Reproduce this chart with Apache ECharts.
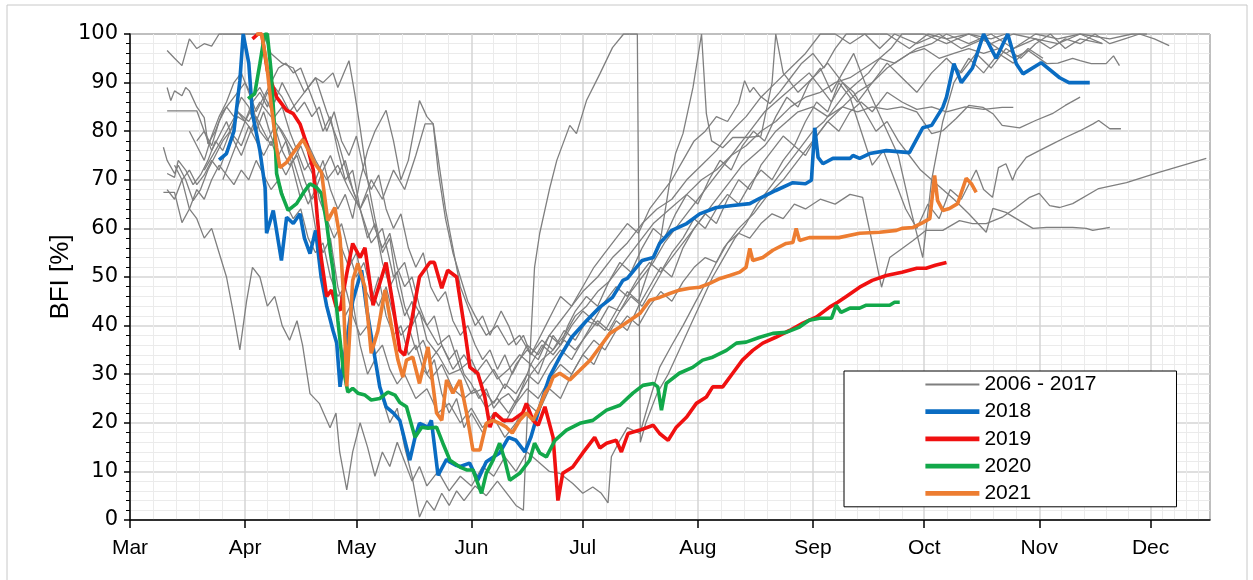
<!DOCTYPE html>
<html>
<head>
<meta charset="utf-8">
<script src="https://cdn.jsdelivr.net/npm/echarts@6/dist/echarts.min.js"></script>
<style>
html,body{margin:0;padding:0;background:#fff;}
#chart{width:1253px;height:580px;}
</style>
</head>
<body>
<div id="chart"></div>
<script>
// x = days since 1 March, y = BFI [%]
const yTicks = [0,10,20,30,40,50,60,70,80,90,100];
const legendNames = ['2006 - 2017','2018','2019','2020','2021'];

const g1 = [[10,96.6],[12,95],[14,93.5],[16,99],[18,97],[20,98],[22,97.5],[24,100],[28,100],[32,100],[36,100],[38,96],[41,94],[44,93],[47,88],[50,91],[53,84],[56,78],[59,70],[62,64],[65,57],[68,60],[71,50],[74,53],[77,44],[80,40],[83,36],[86,38],[89,31],[92,33],[95,28],[98,31],[101,27],[104,32],[107,35],[110,33],[113,38],[116,41],[119,44],[122,47],[126,50],[130,54],[134,57],[138,61],[142,64],[146,66],[150,70],[154,73],[158,76],[162,80],[166,83],[170,87],[174,90],[178,93],[182,96],[186,100],[190,100],[194,98],[198,100],[204,100],[210,97],[215,100],[220,99],[226,100],[232,98],[238,100],[244,99],[248,97],[252,99],[256,98],[260,100],[264,98],[268,99],[272,100],[276,99],[280,97.6]];
const g2 = [[10,89],[11,86.3],[12,88.3],[14,87.3],[15,89],[16,88.3],[18,85],[20,82.8],[21,77.4],[23,80],[25,84],[27,86],[29,88],[31,90],[33,87],[35,89],[37,86],[39,83],[41,85],[43,80],[45,76],[47,72],[49,74],[51,66],[53,62],[55,64],[57,56],[59,52],[61,55],[63,48],[65,45],[67,50],[69,42],[71,38],[73,40],[75,34],[77,36],[79,31],[81,29],[84,32],[87,27],[90,25],[93,27],[96,23],[99,25],[102,22],[105,26],[108,30],[111,33],[114,35],[117,38],[120,42],[123,44],[126,47],[129,49],[132,52],[135,55],[138,58],[141,61],[144,63],[147,65],[150,67],[154,70],[158,72],[162,75],[166,77],[170,80],[174,82],[178,85],[182,87],[186,88],[190,90],[194,91],[198,93],[202,95],[206,94],[210,96],[214,97],[218,95],[222,96],[226,97],[230,96],[234,97],[238,95],[242,96.6],[247,93.9],[250,94],[254,95],[256,94.5],[259,93.9],[263,93.9],[265,95.5],[266.6,93.5]];
const g3 = [[9,76.7],[10,74],[12,71.3],[13,73],[15,70],[17,65.7],[19,68],[21,72],[23,75],[25,78],[27,80],[29,83],[31,82],[33,85],[35,80],[37,78],[39,81],[41,76],[43,73],[45,75],[47,70],[49,66],[51,68],[53,62],[55,58],[57,61],[59,55],[61,50],[63,53],[65,47],[67,44],[69,48],[71,42],[73,38],[75,40],[77,35],[79,37],[81,33],[84,36],[87,31],[90,34],[93,30],[96,33],[99,29],[102,31],[105,34],[108,32],[111,36],[114,34],[117,37],[120,35],[123,38],[126,41],[129,39],[132,43],[135,46],[138,44],[141,48],[144,52],[147,55],[150,58],[153,61],[156,64],[159,67],[162,70],[165,73],[168,75],[171,77],[174,80],[177,82],[180,84],[184,85],[188,83],[192,85],[196,84],[200,85],[204,84.5],[208,85],[212,84],[216,79.5],[219,80.1],[222.6,82.6],[226,85.3],[229.8,84.9],[232.5,83.6],[235,81.2],[239.7,80.7],[244,82.2],[248.5,83.6],[252,85.3],[256,87]];
const g4 = [[10,71.3],[12,70.5],[13,74],[15,72],[17,69],[19,71],[21,74],[23,78],[25,76],[27,80],[29,84],[31,82],[33,86],[35,88],[37,85],[39,89],[41,87],[43,84],[45,86],[47,88],[50,91],[52,90],[54.7,92],[56,89],[59,94.5],[60.5,88],[62,80.7],[64,70],[66,62],[68,55],[70,58],[72,48],[74,42],[76,45],[78,36],[80,30],[82,33],[84,26],[86,22],[88,25],[90,19],[92,22],[95,18],[98,21],[101,17],[104,20],[107,24],[110,22],[113,27],[116,25],[119,30],[122,34],[125,32],[128,37],[131,41],[134,39],[137,44],[140,48],[143,52],[146,50],[149,56],[152,60],[155,63],[158,61],[161,66],[164,70],[167,68],[170,73],[173,76],[176,79],[179,77],[182,82],[185,86],[188,84],[191,90],[194,87],[197,80],[200,73],[203,76],[206,70],[209,64],[212,60],[215,65],[218,62],[221,68],[224,66],[228,72],[230,68],[232.4,66.4],[234,72.5],[236,73.3],[237.8,69.9],[238.8,71.9],[241.5,74.6],[245,76],[248.6,77.4],[252,78.7],[256,80.1],[259.5,81.5],[261,82.2],[264,80.5],[267,80.5]];
const g5 = [[9,67.4],[12,67.4],[14,61.2],[16,64],[18,68],[20,66],[22,70],[24,73],[26,71],[28,69],[30,72],[32,70],[34,74],[36,71],[38,68],[40,70],[42,65],[44,62],[46,64],[48,58],[50,55],[52,57],[54,50],[56,46],[58,48],[60,42],[62,38],[64,40],[66,34],[68,36],[70,31],[72,28],[74,30],[77,25],[80,27],[83,22],[86,24],[89,20],[92,23],[95,19],[98,22],[101,20],[104,24],[107,27],[110,25],[113,29],[116,32],[119,30],[122,34],[125,37],[128,35],[131,39],[134,42],[137,40],[140,44],[143,47],[146,45],[149,49],[152,52],[155,54],[158,53],[161,57],[164,59],[167,58],[170,61],[173,63],[176,62],[179,65],[182,64],[186,66],[190,65],[194,67],[197.4,66.4],[200,57],[202.5,47.9],[204.7,54],[207.4,55.5],[211,57.5],[214.5,59.6],[219,59.6],[223.5,61.6],[227,61],[230.7,61],[235,62.3],[238.8,64.3],[242.4,66.4],[245,67.2],[247.8,64.7],[250.5,64.3],[254,65.1],[261,68.2],[268.5,69.4],[277,71.5],[285,73.3],[290,74.4]];
const g6 = [[10,84.2],[14,84.2],[18,84.2],[20,80],[22,76],[24,79],[26,82],[28,78],[30,75],[32,79],[34,83],[36,80],[38,77],[40,81],[42,78],[44,74],[46,77],[48,73],[50,70],[52,74],[54,68],[56,64],[58,67],[60,62],[62,70],[64,76],[66,80],[69,84.3],[71,78],[73,70],[75,74],[78,86.3],[80,83],[81.7,81.5],[83,72],[85,62],[87,55],[89,50],[91,45],[93,42],[96,38],[99,40],[102,36],[105,38],[108,34],[111,37],[114,35],[117,39],[120,37],[123,41],[126,40],[129,44],[132,43],[135,47],[138,50],[141,53],[144,57],[147,60],[150,63],[153,66],[156,69],[159,72],[162,75],[165,78],[168,81],[171,84],[174,86],[177,88],[180,90],[183,92],[186,89],[189,86],[192,90],[195,88],[198,84],[201,80],[204,82],[207,78],[210,75],[213,72],[216,70],[219,68],[222,66],[226,63],[230.7,59.2],[232.5,64.1],[236,63.3],[239.7,61.6],[243.3,60],[247,60.2],[250.5,60.2],[254,60.2],[257.7,60],[259.4,59.6],[264,60.2]];
const g7 = [[10,68],[12,66],[14,70],[16,64],[18,62],[20,58],[22,60],[24,55],[26,50],[28,42],[29.6,35],[31.4,45],[33,52],[35,50],[37,44],[39,46],[41,40],[43,37],[45,41],[46.5,36],[48.5,26],[51,24],[53.9,19],[55.5,22],[56.5,14],[58.4,6.2],[60,14],[62,20],[64,15],[66,9],[68,14],[70,11],[72,16],[74,12],[76,8],[78,11],[80,7],[83,10],[86,6],[89,9],[92,7],[95,11],[98,9],[101,13],[104,10],[107,14],[110,12],[113,10],[115.8,9.6],[119.3,7.5],[122,5.5],[124.7,6.8],[127,5.5],[128.8,3.5],[129.7,13],[132,16.4],[134,19],[137.4,17.8],[140,24.7],[142.7,31.4],[146,36],[149,40],[152.6,45.2],[156,50],[160,56],[164,60],[168,63],[172,67],[176,70],[180,74],[184,78],[188,82],[192,85],[196,88],[200,90],[204,93],[208,95],[212,97],[216,98],[220,100],[226,98],[232,100],[238,97],[244,99],[250,98],[256,100],[262,98]];
const g8 = [[18,78],[20,80],[22,77],[24,82],[26,85],[28,83],[30,87],[32,85],[34,80],[36,84],[38,79],[40,75],[42,78],[44,72],[46,66],[48,69],[50,60],[52,55],[54,58],[56,48],[58,42],[60,45],[62,36],[64,30],[66,33],[68,25],[70,20],[72,23],[74,15],[76,9],[78,0.6],[80,4],[82,2],[84,5.5],[86,3],[88,6],[90,4],[93,7],[96,5],[99,8],[102,5],[104,3],[106,2],[107.5,30],[109,52],[110.4,59],[113,68],[115,74],[118.5,81.2],[120.3,79.5],[123,86.3],[126.6,91.8],[130,97.2],[133,100],[136.7,100],[137.5,16],[139,20],[142,26],[145,30],[148,35],[151,40],[154,45],[157,50],[160,54],[163,58],[166,61],[169,65],[172,68],[175,71],[178,74],[181,77],[184,80],[187,82],[190,85],[193,88],[196,90],[199,92],[202,95],[205,97],[208,100],[214,100],[220,98],[226,100],[232,99],[236,100]];
const g9 = [[16,80],[18,77],[20,74],[22,79],[24,83],[26,86],[28,90],[30,92],[32,88],[34,84],[36,87],[38,90],[40,93],[42,94],[44,92],[46,93],[48,89],[50,85],[52,80],[54,83],[56,76],[58,70],[60,72],[62,64],[64,58],[66,61],[68,53],[70,48],[72,51],[74,44],[76,40],[78,43],[80,37],[83,34],[86,30],[89,31],[92,26],[95,27],[98,24],[101,28],[104,26],[107,30],[110,28],[113,32],[116,35],[119,33],[122,37],[125,41],[128,39],[131,43],[134,47],[137,45],[140,52],[143,58],[145.5,69.9],[147,75.4],[149,79.5],[151.7,89],[154,100],[155.3,83.6],[156.7,78],[159.7,76.6],[162.4,78.7],[166,78.7],[170,79],[173,90],[174,100],[176,92],[180,88],[184,91],[188,94],[192,90],[196,86],[200,90],[204,94],[208,91],[212,88],[216,92],[220,95],[224,92],[228,96],[232,93],[236,97],[240,95],[244,98],[248,100],[252,97],[256,99],[262,98]];
const g10 = [[20,72],[23,76],[26,80],[29,84],[32,82],[35,86],[38,83],[41,80],[44,76],[47,79],[50,74],[53,70],[56,73],[59,68],[62,64],[65,70],[68,66],[71,72],[74,68],[77,75],[79.5,81.5],[81.7,81.5],[83.5,72],[85,64],[87,56],[89,48],[91,44],[93,40],[95,42],[97,38],[100,43],[102,40],[104,36],[106,38],[108,34],[110,37],[112,40],[114,43],[116,46],[119,44],[122,48],[125,52],[128,55],[131,58],[134,61],[137,59],[140,64],[143,67],[146,70],[149,74],[152,78],[155,80],[158,83],[161,82],[164,85.7],[165.6,90.4],[167,88],[168,89],[169.7,87.3],[172.4,85.7],[175,88],[178,91],[181,94],[184,96],[187,93],[190,97],[193,100],[198,100],[202,97],[206,100],[212,98],[218,100],[224,97],[230,99],[236,96],[240,98],[244,100],[250,99],[256,100],[264,99],[270,100],[274,100]];
const g11 = [[25,70],[27,74],[29,78],[31,82],[33,80],[35,84],[37,88],[39,86],[41,90],[43,87],[45,84],[47,86],[49,83],[51,85],[53,80],[55,84],[57,78],[59,75],[61,79],[63,72],[65,68],[67,71],[69,64],[71,60],[73,63],[75,56],[77,52],[79,55],[81,48],[83,45],[85,47],[87,41],[89,38],[91,40],[93,36],[95,33],[97,35],[99,31],[101,34],[103,30],[105,33],[107,36],[110,34],[113,38],[116,36],[119,40],[122,43],[125,41],[128,45],[131,48],[134,46],[137,50],[140,53],[143,51],[146,55],[149,58],[152,62],[155,60],[158,64],[161,67],[164,65],[167,69],[170,72],[173,70],[176,74],[179,77],[182,75],[185,79],[188,82],[191,80],[194,84],[197,86],[200,84],[204,88],[208,86],[212,84.5],[216,85],[220,84],[225,85],[230,84.5],[235,84.9],[238,84.9]];
const g12 = [[12,73],[14,70],[16,72],[18,69],[20,71],[22,74],[24,72],[26,76],[28,79],[30,77],[32,81],[34,78],[36,75],[38,78],[40,74],[42,71],[44,74],[46,69],[48,65],[50,68],[52,72],[54,75],[56,71],[58,74],[60,68],[62,64],[64,67],[66,60],[68,56],[70,59],[72,52],[74,48],[76,50],[78,44],[80,40],[82,42],[84,36],[86,33],[88,35],[90,30],[92,28],[94,25],[96,27],[98,23],[100,25],[102,26],[104,24],[106,28],[108,32],[110,30],[112,34],[114,38],[116,36],[118,40],[120,43],[123,46],[126,44],[129,49],[132,53],[135,51],[138,56],[141,60],[144,58],[147,63],[150,67],[153,65],[156,70],[159,74],[162,72],[165,77],[168,80],[171,78],[174,83],[177,87],[180,85],[183,90],[186,93],[189,88],[192,92],[195,96],[198,90],[201,85],[204,80],[207,75],[210,65],[213.6,54],[216,70],[219,82],[222,90],[226,95],[230,92],[234,96],[238,94],[242,97],[246,95]];

const y2018 = [[24,74.1],[26,75.4],[28,80],[29.6,90.4],[30.5,100],[31,100],[32,94],[33,83.6],[35,76],[36.4,68.4],[36.8,59],[38.6,63.7],[40.8,53.4],[42.2,62.3],[44,61],[45.8,63],[47,58],[48.5,54.8],[50,59.6],[51.5,50],[53,44],[54.7,39],[55.7,36.4],[56.6,27.4],[58,35],[60,45],[62.4,51.4],[63.7,43.8],[65.5,35.6],[67.3,27.4],[69,23.3],[71,22],[72.7,20.5],[74.5,15],[75.4,12.3],[76.8,17],[78,19.9],[80.3,19.1],[81.2,20.5],[83,9.2],[85.3,12.5],[86,12],[88,11.2],[89,11],[91.5,11.7],[93.7,8.2],[96,12],[99.6,13.8],[102,17],[104,16.4],[106.4,14],[108,17],[110.4,23.3],[113,29.4],[115.8,33.5],[119,37.6],[123,41],[126.6,43.8],[130,45.8],[132.8,49.3],[134,49.7],[138,53.4],[141,54],[142.7,56.9],[146,59.6],[150,61],[153.5,63],[158,64.3],[162.4,64.7],[167,65.1],[169.7,66.2],[174,67.8],[178.6,69.4],[182,69.2],[183.6,69.9],[184.5,80.7],[185.4,74.6],[186.7,73.3],[189.4,74.4],[194,74.4],[194.8,75],[196.6,74.4],[199.3,75.4],[203.8,76],[210,75.6],[213.6,80.7],[216,81.2],[219,84.9],[220,87],[222,93.9],[224,90],[227,93],[230,100],[233.4,95],[236.5,100],[238.8,93.9],[240.6,91.8],[245.5,94.1],[250.5,91],[253,90],[258.6,90]];
const y2019 = [[33,99],[34.5,100],[35.5,100],[37,92.5],[39.5,87],[42.2,84.3],[44,83.6],[45.8,81.5],[47.6,77.4],[49.4,72],[50.5,62],[51.5,54],[53,46],[54.3,47.3],[55.5,44],[56.6,43.1],[58.4,50.7],[60,56.9],[62,54],[63.3,56],[65.5,44.2],[67.3,48.7],[69,53],[70.8,44.6],[72.7,34.9],[74,33.9],[75.9,41.1],[78,50],[80.8,53],[82,53],[84,47.7],[85.6,51.4],[88,50],[89.8,41.1],[91.6,31.4],[93.7,30.2],[95.6,25.3],[97,19.1],[98.3,22],[100.5,20.5],[103,20.5],[105.8,22],[106.8,24],[108.6,20.5],[110,19.5],[111.8,23.3],[114,17],[115.3,4],[116.6,9.6],[119.3,10.9],[122,13.8],[125.2,17],[126.6,14.8],[128.4,15.8],[131,16.4],[132.4,14],[134.2,17.8],[137.4,18.5],[141,19.5],[142.7,17.8],[145,16.4],[147.2,19.1],[150,21.2],[152.6,24],[155.3,25.3],[157,27.4],[159.7,27.4],[162.4,30.2],[165,32.9],[167.8,34.9],[170.5,36.4],[174,37.6],[177.7,39],[181.3,40.5],[185,41.8],[188.5,43.8],[190.7,44.8],[193,46],[196.6,47.9],[200,49.3],[203.8,50.3],[208,51],[212,51.8],[214.5,51.8],[217,52.4],[220,53]];
const y2020 = [[31.8,86.7],[33.6,87.7],[35,93.9],[36,98.6],[36.4,100],[37,100],[38,92.5],[39,80.1],[39.5,71.3],[40.8,67.2],[42.6,63.7],[44.9,65.1],[46.6,67.2],[48.5,69.2],[50.3,68.4],[51.6,67.2],[53,61],[54,55],[54.7,51.4],[56,41.1],[57.4,31.4],[58.7,26.3],[60,27.1],[61.4,26.1],[63.3,25.7],[65,24.7],[67.3,25],[69.5,26.3],[71.4,25.7],[72.7,24.2],[74.5,23.3],[76.8,17],[78.6,19.1],[80.3,18.9],[82.6,19.1],[84.3,15.8],[86.2,12.3],[88.9,10.9],[90.7,10.3],[92.4,10.3],[94.7,5.5],[96,9.6],[97.8,12.3],[99.6,15.8],[101,12.3],[102.3,8.2],[105,9.6],[107.7,12.3],[109,15.8],[110.4,13.8],[112.2,13],[114.5,16.4],[117.6,18.5],[121.2,19.9],[124.7,20.5],[128.4,22.6],[132,23.6],[135.5,26.1],[138.2,27.7],[141,28.1],[142.2,27.4],[143.2,22.6],[144.5,28.1],[148,30.2],[151.6,31.4],[154.3,32.9],[157,33.5],[160.7,34.9],[163.4,36.4],[166,36.6],[169.7,37.6],[173.2,38.4],[176.8,38.6],[180.4,39.7],[183,41.1],[185.8,41.5],[189,41.5],[190.3,44.2],[191.6,42.7],[194,43.6],[196.6,43.6],[198.4,44.2],[202,44.2],[204.7,44.2],[206,44.8],[207.4,44.8]];
const y2021 = [[34,100],[35.5,100],[36.8,93.9],[38,85.7],[39.5,76.6],[40.4,72.5],[42.2,73.6],[44.4,76],[46.6,78.3],[48.5,75.4],[49.8,73.3],[51.6,71.5],[53.3,61.6],[55.2,64.3],[56.6,58],[57.4,48],[58.4,27.5],[60,49.3],[61.4,52.8],[63.3,47.9],[65,34.3],[66.8,39],[68.7,47.3],[70.5,39.7],[72.2,32.9],[73.5,29.4],[74.5,32.9],[76.2,33.5],[78,28.1],[80.3,35.6],[82.6,22],[84,20.5],[85.3,28.8],[87,26.1],[88.9,28.8],[90.7,22],[92.4,14.4],[94.3,14.4],[96,19.9],[97.8,20.5],[99.6,19.9],[101.4,19.1],[103,17.9],[105,20.5],[106.8,22],[108.6,20.5],[110.4,23.3],[111.8,26.1],[113,27.4],[114,29.4],[115.8,30.2],[118.5,28.8],[121.2,30.8],[124,32.9],[126.6,35.6],[129.3,38.4],[132,39.7],[134.7,41.1],[137.4,42.5],[140,45.2],[142.7,45.8],[145.4,46.6],[148,47.3],[150.8,47.7],[153.5,47.9],[156.2,48.7],[159,49.7],[161.6,50.3],[164.3,51],[166,52],[167,55.9],[167.8,53.4],[170.5,54],[173.2,55.5],[176.8,56.9],[178.6,57.1],[179.5,60],[180.4,57.5],[183,58.1],[187.6,58.1],[191,58.1],[196.6,59],[202,59.2],[206.5,59.6],[208,60],[211,60.2],[213.6,61.2],[215.5,62],[216.8,70.9],[217.6,65.7],[219,63.7],[220.8,64.1],[223,65.1],[225.3,70.3],[226.7,69.2],[228,67.4]];

const grayLines = [g1,g2,g3,g4,g5,g6,g7,g8,g9,g10,g11,g12];
const colorLines = [
  {name:'2018', data:y2018, color:'#0a6cc2'},
  {name:'2019', data:y2019, color:'#f01010'},
  {name:'2020', data:y2020, color:'#12a84a'},
  {name:'2021', data:y2021, color:'#ed7d31'}
];

const BASE = new Date(2021, 2, 1).getTime();
const DAY = 86400000;
const toSeries = arr => arr.map(p => [BASE + p[0]*DAY, p[1]]);

const series = [];
grayLines.forEach(arr => series.push({
  name: legendNames[0], type:'line', data: toSeries(arr), showSymbol:false, symbol:'none',
  lineStyle:{color:'#7f7f7f', width:1.3}, itemStyle:{color:'#7f7f7f'}, silent:true
}));
colorLines.forEach(c => series.push({
  name: c.name, type:'line', data: toSeries(c.data), showSymbol:false, symbol:'none',
  lineStyle:{color:c.color, width:3.6}, itemStyle:{color:c.color}, silent:true
}));

const legendData = legendNames.map((n, i) => ({name:n, lineStyle:{width: i === 0 ? 1.8 : 4.8}}));

const chart = echarts.init(document.getElementById('chart'), null, {renderer:'canvas'});
const FONT = '"Liberation Sans", Arial, sans-serif';
chart.setOption({
  animation:false,
  backgroundColor:'#fff',
  textStyle:{fontFamily:FONT},
  graphic:[{type:'rect', shape:{x:7, y:5, width:1240, height:590}, style:{fill:'none', stroke:'#c8c8c8', lineWidth:1}, silent:true}],
  grid:{left:130, right:43, top:34, bottom:60, show:true, borderColor:'#000', borderWidth:1, backgroundColor:'transparent'},
  legend:{
    data: legendData, left:844, top:371, orient:'vertical',
    itemWidth:54, itemHeight:20, itemGap:6.2,
    padding:[3,80,3,79], backgroundColor:'#fff', borderColor:'#000', borderWidth:1,
    selectedMode:false,
    itemStyle:{opacity:0},
    lineStyle:{opacity:1},
    textStyle:{fontSize:21, color:'#000', fontFamily:FONT}
  },
  xAxis:{
    type:'time',
    min: BASE, max: BASE + 291*DAY,
    axisLine:{show:true, lineStyle:{color:'#000', width:1.5}},
    axisTick:{show:true, length:8, inside:false, lineStyle:{color:'#000', width:1.5}},
    axisLabel:{formatter:'{MMM}', fontSize:21, color:'#000', margin:18, fontFamily:FONT, showMinLabel:true, showMaxLabel:false},
    splitLine:{show:true, lineStyle:{color:'#d4d4d4', width:1.5}},
    minorTick:{show:false, splitNumber:5},
    minorSplitLine:{show:true, lineStyle:{color:'#ebebeb', width:1}}
  },
  yAxis:{
    type:'value', min:yTicks[0], max:yTicks[yTicks.length-1], interval:10,
    name:'BFI [%]', nameLocation:'middle', nameGap:56, nameRotate:90, nameMoveOverlap:false,
    nameTextStyle:{fontSize:26, color:'#000', fontFamily:FONT},
    axisLine:{show:true, lineStyle:{color:'#000', width:1.5}},
    axisTick:{show:true, length:6, lineStyle:{color:'#000', width:1.5}},
    minorTick:{show:true, splitNumber:5, length:4, lineStyle:{color:'#000', width:1}},
    axisLabel:{fontSize:21, color:'#000', margin:12, fontFamily:'"DejaVu Sans", sans-serif'},
    splitLine:{show:true, lineStyle:{color:'#d4d4d4', width:1.5}},
    minorSplitLine:{show:true, lineStyle:{color:'#ebebeb', width:1}}
  },
  series: series
});
</script>
</body>
</html>
